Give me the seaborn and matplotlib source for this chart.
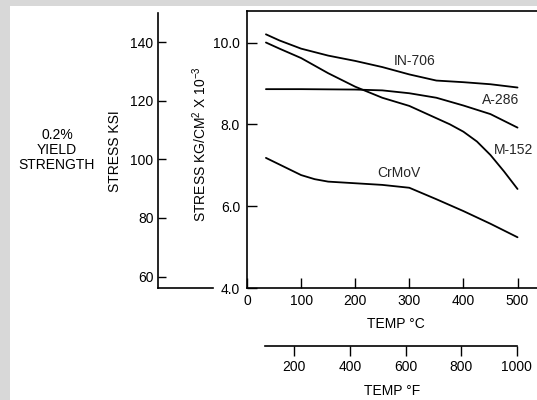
import pandas as pd
import matplotlib
matplotlib.use("Agg")
import matplotlib.pyplot as plt
import seaborn as sns
from matplotlib.patches import Rectangle

# values (temperature in deg C, stress in kg/cm2 x 1e-3)
in706_t = [35, 60, 100, 150, 200, 250, 300, 350, 400, 450, 500]
in706_s = [10.2, 10.05, 9.85, 9.68, 9.55, 9.40, 9.22, 9.07, 9.03, 8.98, 8.90]

a286_t = [35, 100, 200, 250, 300, 350, 400, 450, 500]
a286_s = [8.86, 8.86, 8.85, 8.83, 8.76, 8.65, 8.46, 8.25, 7.92]

m152_t = [35, 60, 100, 150, 200, 250, 300, 350, 375, 400, 425, 450, 475, 500]
m152_s = [10.0, 9.85, 9.62, 9.25, 8.92, 8.65, 8.45, 8.15, 8.0, 7.82, 7.58, 7.25, 6.85, 6.42]

crmov_t = [35, 100, 125, 150, 200, 250, 300, 350, 400, 450, 500]
crmov_s = [7.18, 6.76, 6.66, 6.60, 6.56, 6.52, 6.45, 6.17, 5.88, 5.57, 5.24]

alloys = ["IN-706", "A-286", "M-152", "CrMoV"]
label_pos = {"IN-706": (310, 9.55), "A-286": (469, 8.59),
             "M-152": (492, 7.37), "CrMoV": (280, 6.80)}

c_ticks = [0, 100, 200, 300, 400, 500]
kg_ticks = [4.0, 6.0, 8.0, 10.0]
ksi_ticks = [60, 80, 100, 120, 140]
f_ticks = [200, 400, 600, 800, 1000]

df = pd.concat([
    pd.DataFrame({"temp": in706_t, "stress": in706_s, "alloy": "IN-706"}),
    pd.DataFrame({"temp": a286_t, "stress": a286_s, "alloy": "A-286"}),
    pd.DataFrame({"temp": m152_t, "stress": m152_s, "alloy": "M-152"}),
    pd.DataFrame({"temp": crmov_t, "stress": crmov_s, "alloy": "CrMoV"}),
])

sns.set_theme(style="white")
plt.rcParams["font.family"] = ["Liberation Sans", "DejaVu Sans"]
plt.rcParams["mathtext.fontset"] = "custom"
plt.rcParams["mathtext.rm"] = "Liberation Sans"
plt.rcParams["mathtext.it"] = "Liberation Sans"
plt.rcParams["font.size"] = 10

W, H = 537, 400
fig = plt.figure(figsize=(W / 100, H / 100), dpi=100)
fig.patch.set_facecolor("#d8d8d8")
fig.patches.append(Rectangle((10 / W, 0), 1, 1 - 6 / H, transform=fig.transFigure,
                             facecolor="white", edgecolor="none", zorder=-10))


def box(x0, y0, x1, y1):
    # pixel box (top-left origin) -> figure fraction rect
    return [x0 / W, 1 - y1 / H, (x1 - x0) / W, (y1 - y0) / H]


def ftext(x, y, s, **kw):
    fig.text(x / W, 1 - y / H, s, ha="center", va="center", color="black", **kw)


# main axes (deg C vs kg/cm2)
ax = fig.add_axes(box(247, 11, 537, 288))
sns.lineplot(data=df, x="temp", y="stress", units="alloy", estimator=None,
             color="black", linewidth=1.3, sort=False, ax=ax)
ax.set_xlim(0, 536)
ax.set_ylim(4.0, 10.77)
ax.set_xticks(c_ticks)
ax.set_xticklabels(["0"] + [str(t) for t in c_ticks[1:]])
ax.set_yticks(kg_ticks)
ax.set_yticklabels([f"{v:.1f}" for v in kg_ticks])
ax.tick_params(direction="in", length=7, width=1, colors="black", labelsize=10,
               bottom=True, left=True)
ax.tick_params(axis="y", pad=5)
ax.tick_params(axis="x", pad=4)
ax.set_xlabel("")
ax.set_ylabel("")
ax.spines["right"].set_visible(False)
for s in ["left", "bottom", "top"]:
    ax.spines[s].set_color("black")
    ax.spines[s].set_linewidth(1.2)
for name in alloys:
    x, y = label_pos[name]
    ax.text(x, y, name, ha="center", va="center", fontsize=10)

# KSI axis
ax2 = fig.add_axes(box(157.7, 12.7, 213, 288.3))
ax2.set_facecolor("none")
ax2.set_ylim(56, 150)
ax2.set_xlim(0, 1)
ax2.set_yticks(ksi_ticks)
ax2.set_xticks([])
ax2.tick_params(axis="y", direction="in", length=6, width=1, colors="black",
                labelsize=10, pad=3, left=True)
for s in ["top", "right"]:
    ax2.spines[s].set_visible(False)
for s in ["left", "bottom"]:
    ax2.spines[s].set_color("black")
    ax2.spines[s].set_linewidth(1.2)

# deg F axis
ax3 = fig.add_axes(box(265, 344, 516.7, 345.7))
ax3.set_facecolor("none")
ax3.set_xlim(94.6, 1000)
ax3.set_xticks(f_ticks)
ax3.set_yticks([])
ax3.tick_params(axis="x", direction="out", length=7, width=1, colors="black",
                labelsize=10, pad=3, bottom=True)
for s in ["top", "right", "left"]:
    ax3.spines[s].set_visible(False)
ax3.spines["bottom"].set_color("black")
ax3.spines["bottom"].set_linewidth(1.2)

# labels
ftext(395.7, 324, "TEMP °C", fontsize=10)
ftext(391.7, 390.7, "TEMP °F", fontsize=10)
ftext(115, 151, "STRESS KSI", rotation=90, fontsize=10)
ftext(200, 144, r"STRESS KG/CM$^2$ X 10$^{-3}$", rotation=90, fontsize=10)
ftext(57, 150, "0.2%\nYIELD\nSTRENGTH", fontsize=10, linespacing=1.05,
      multialignment="center")

fig.savefig("out.png", dpi=100, facecolor=fig.get_facecolor())
